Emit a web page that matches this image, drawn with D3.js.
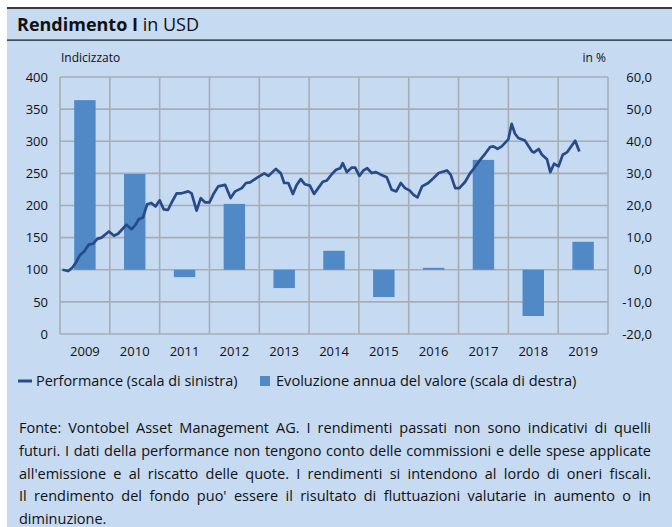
<!DOCTYPE html>
<html>
<head>
<meta charset="utf-8">
<script src="https://cdn.jsdelivr.net/npm/d3@7"></script>
<style>
    body { margin: 0; background: #fff; }
    #wrap { position: relative; width: 672px; height: 527px; overflow: hidden; }
    svg text { font-family: "Open Sans", sans-serif; fill: #111; }
    #note {
        position: absolute; left: 19px; top: 417px; width: 632px;
        font-family: "Open Sans", sans-serif; font-size: 13px; line-height: 22.8px; color: #111;
    }
    #note div { white-space: nowrap; text-align: justify; text-align-last: justify; }
    #note div.last { text-align-last: left; height: 19px; }
    #note span { display: inline-block; }
</style>
</head>
<body>
<div id="wrap"></div>
<script>
const years = ["2009", "2010", "2011", "2012", "2013", "2014", "2015", "2016", "2017", "2018", "2019"]
const annualChange = [52.8, 29.8, -2.3, 20.5, -5.7, 5.9, -8.5, 0.6, 34.2, -14.4, 8.7]

// months since Jan 2009
const perfMonth = [0.6, 2, 3, 4, 4.8, 5.8, 6.9, 8, 9, 10, 11.8, 13, 14, 16, 17.2, 18.1, 19, 20, 21, 22, 23, 24, 25, 26, 27, 28.1, 29.3, 30.9, 31.7, 32.9, 33.9, 34.9, 36, 36.9, 38.1, 39.8, 41.1, 42.2, 43.8, 44.8, 45.8, 47.4, 48.2, 49.2, 50.2, 52, 53.2, 54, 55, 56.1, 57, 58, 59, 60.2, 61.2, 62.2, 63.3, 64.3, 65.5, 66.5, 67.5, 68.1, 69.1, 70.3, 71.1, 72.1, 73.1, 74, 75.1, 76.1, 77.3, 78.7, 79.9, 81, 82.1, 83.1, 84.2, 85.1, 86.1, 87.2, 88.7, 90, 91.2, 93.2, 94.1, 95.2, 96.2, 97.6, 98.8, 99.6, 101.2, 102.4, 103.6, 104.4, 105.4, 106.4, 108, 108.8, 109.6, 110.4, 112, 113.7, 114.2, 115.3, 116.1, 117.3, 118.1, 119, 120.1, 121.1, 122.1, 124.1, 125.1]
const perfValue = [100, 98, 103.6, 113, 123, 128.5, 139, 140.5, 148, 150, 159.6, 153, 156, 170, 163, 169, 179, 181.5, 202, 204, 198.5, 208, 194, 193, 206, 219, 219, 222, 219, 192, 211.5, 205, 205, 217, 229.7, 232, 211.5, 222, 227, 235, 236, 243, 246, 250, 246, 257, 250, 235, 235, 218, 232, 241, 233, 231, 218, 227, 237, 239, 249, 255.6, 258, 266, 252, 259, 259, 246, 254.6, 258, 250.5, 252, 248, 244, 224.5, 222, 235, 227, 223.5, 217, 212.6, 229.7, 235, 242.7, 250.5, 254.6, 248, 227, 227, 237, 250.5, 256.7, 271, 280.5, 291, 292, 288, 292, 303, 327, 311.7, 305, 301, 284, 282.6, 288, 279, 272, 252, 265, 261, 279, 282.6, 300.8, 284]

const leftTicks = [0, 50, 100, 150, 200, 250, 300, 350, 400]
const rightTicks = [-20, -10, 0, 10, 20, 30, 40, 50, 60]

const noteLines = [
    "Fonte: Vontobel Asset Management AG. I rendimenti passati non sono indicativi di quelli",
    "futuri. I dati della performance non tengono conto delle commissioni e delle spese applicate",
    "all'emissione e al riscatto delle quote. I rendimenti si intendono al lordo di oneri fiscali.",
    "Il rendimento del fondo puo' essere il risultato di fluttuazioni valutarie in aumento o in",
    "diminuzione."
]

const WIDTH = 672
const HEIGHT = 527
const PLOT = { left: 60, right: 608, top: 77, bottom: 334 }

const BG = "#c6daf1"
const BAR = "#5089c6"
const LINE = "#264a8a"
const GRID = "#a9adb3"

const svg = d3.select("#wrap")
    .append("svg")
    .attr("width", WIDTH)
    .attr("height", HEIGHT)

// panel background
svg.append("rect")
    .attr("x", 7).attr("y", 0)
    .attr("width", WIDTH - 7).attr("height", HEIGHT)
    .attr("fill", BG)
svg.append("rect")
    .attr("x", 0).attr("y", 0)
    .attr("width", WIDTH).attr("height", 7)
    .attr("fill", "#fff")
svg.append("rect")
    .attr("x", 7).attr("y", 7)
    .attr("width", WIDTH - 7).attr("height", 2)
    .attr("fill", "#3a3a3a")
svg.append("rect")
    .attr("x", 7).attr("y", 39.5)
    .attr("width", WIDTH - 7).attr("height", 1.2)
    .attr("fill", "#111")

const title = svg.append("text")
    .attr("x", 17)
    .attr("y", 30.5)
    .style("font-size", "18px")
title.append("tspan").style("font-weight", "bold").text("Rendimento I")
title.append("tspan").text(" in USD")

svg.append("text")
    .attr("x", 61).attr("y", 62)
    .style("font-size", "12px")
    .text("Indicizzato")

svg.append("text")
    .attr("x", 606).attr("y", 62)
    .attr("text-anchor", "end")
    .style("font-size", "12px")
    .text("in %")

// scales
const xMonth = d3.scaleLinear()
    .domain([0, years.length * 12])
    .range([PLOT.left, PLOT.right])

const xBand = d3.scaleBand()
    .domain(years)
    .range([PLOT.left, PLOT.right])
    .paddingInner(0.57)
    .paddingOuter(0.285)

const yLeft = d3.scaleLinear()
    .domain([0, 400])
    .range([PLOT.bottom, PLOT.top])

const yRight = d3.scaleLinear()
    .domain([-20, 60])
    .range([PLOT.bottom, PLOT.top])

// grid
svg.append("g")
    .selectAll("line")
    .data(leftTicks)
    .join("line")
    .attr("x1", PLOT.left).attr("x2", PLOT.right)
    .attr("y1", d => yLeft(d)).attr("y2", d => yLeft(d))
    .attr("stroke", GRID)
    .attr("stroke-width", 1.6)

svg.append("g")
    .selectAll("line")
    .data(d3.range(years.length + 1))
    .join("line")
    .attr("x1", d => xMonth(d * 12)).attr("x2", d => xMonth(d * 12))
    .attr("y1", PLOT.top).attr("y2", PLOT.bottom)
    .attr("stroke", GRID)
    .attr("stroke-width", 1.6)

// bars
svg.append("g")
    .selectAll("rect")
    .data(annualChange)
    .join("rect")
    .attr("x", (d, i) => xBand(years[i]))
    .attr("width", xBand.bandwidth())
    .attr("y", d => yRight(Math.max(0, d)))
    .attr("height", d => Math.abs(yRight(d) - yRight(0)))
    .attr("fill", BAR)

// performance line
const line = d3.line()
    .x(d => xMonth(d[0]))
    .y(d => yLeft(d[1]))

svg.append("path")
    .datum(perfMonth.map((m, i) => [m, perfValue[i]]))
    .attr("d", line)
    .attr("fill", "none")
    .attr("stroke", LINE)
    .attr("stroke-width", 2.7)
    .attr("stroke-linejoin", "round")

// axes
const leftAxis = svg.append("g")
    .attr("transform", "translate(" + (PLOT.left - 9) + ",0)")
    .call(d3.axisLeft(yLeft).tickValues(leftTicks).tickSize(0))
leftAxis.select(".domain").remove()
leftAxis.selectAll("text").style("font-size", "13px").attr("fill", "#111")

const rightAxis = svg.append("g")
    .attr("transform", "translate(652,0)")
    .call(d3.axisLeft(yRight).tickValues(rightTicks).tickSize(0).tickPadding(0)
        .tickFormat(d => d3.format(".1f")(d).replace(".", ",").replace("\u2212", "-")))
rightAxis.select(".domain").remove()
rightAxis.selectAll("text").style("font-size", "13px").attr("fill", "#111")

const bottomAxis = svg.append("g")
    .attr("transform", "translate(0," + PLOT.bottom + ")")
    .call(d3.axisBottom(xBand).tickSize(0).tickPadding(13))
bottomAxis.select(".domain").remove()
bottomAxis.selectAll("text").style("font-size", "13px").attr("fill", "#111")

// legend
const legend = svg.append("g").attr("transform", "translate(0,381)")
legend.append("line")
    .attr("x1", 18).attr("x2", 32)
    .attr("stroke", LINE).attr("stroke-width", 3)
legend.append("text")
    .attr("x", 36).attr("y", 5)
    .style("font-size", "14.4px")
    .text("Performance (scala di sinistra)")
legend.append("rect")
    .attr("x", 260).attr("y", -5)
    .attr("width", 10).attr("height", 10)
    .attr("fill", BAR)
legend.append("text")
    .attr("x", 276).attr("y", 5)
    .style("font-size", "14.6px")
    .text("Evoluzione annua del valore (scala di destra)")

// footnote, font size shrunk until the widest line fits the box
const note = d3.select("#wrap")
    .append("div")
    .attr("id", "note")

const probe = note.append("span").text(noteLines[1])
let noteSize = 14.5
note.style("font-size", noteSize + "px")
while (probe.node().getBoundingClientRect().width > 626 && noteSize > 11) {
    noteSize -= 0.1
    note.style("font-size", noteSize + "px")
}
probe.remove()

note.selectAll("div")
    .data(noteLines)
    .join("div")
    .attr("class", (d, i) => i === noteLines.length - 1 ? "last" : null)
    .text(d => d)
</script>
</body>
</html>
